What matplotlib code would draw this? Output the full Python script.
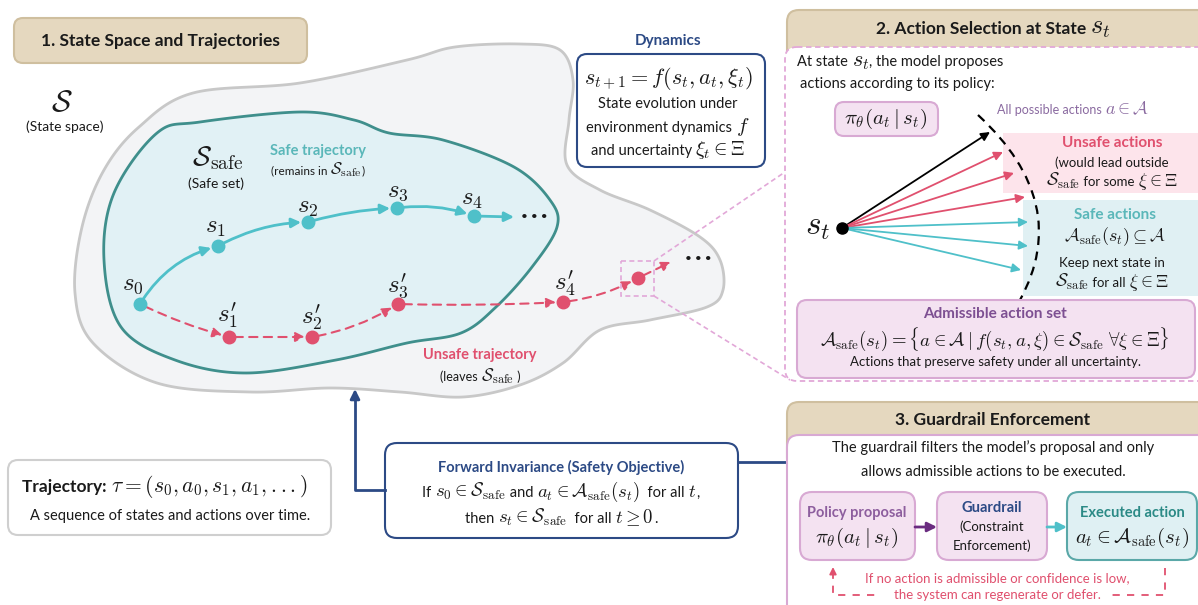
import numpy as np
import matplotlib
matplotlib.use('Agg')
import matplotlib.pyplot as plt
from matplotlib.patches import FancyBboxPatch, FancyArrowPatch, PathPatch
from matplotlib.path import Path

plt.rcParams['font.family'] = ['Lato', 'DejaVu Sans']
plt.rcParams['mathtext.fontset'] = 'cm'

# colours
TEAL = '#4fc0c9'
TEAL_TXT = '#5ab7b9'
RED = '#e0506e'
NAVY = '#2c4a85'
TAN = '#e5d8bf'
TAN_EDGE = '#cfbf9f'
PINK_FC = '#f4e2f1'
PINK_EC = '#d8a9d3'
PINK_DASH = '#e2a8d8'
DARK_TEAL = '#3f8f8c'
INK = '#1a1a1a'

# shapes of the two sets (outline points, pixel coords)
outer_x = [139, 193, 300, 407, 455, 520, 560, 573, 569, 567, 600, 650, 700, 720, 723, 707, 650,
           600, 563, 520, 463, 400, 330, 250, 157, 93, 75, 82, 104]
outer_y = [127, 93, 83, 60, 47, 44, 50, 80, 120, 165, 190, 210, 237, 260, 290, 307, 320,
           330, 363, 385, 397, 392, 388, 392, 383, 343, 293, 227, 170]
inner_x = [157, 200, 300, 354, 389, 443, 514, 550, 557, 532, 496, 461, 407, 336, 246, 175, 121, 104, 114]
inner_y = [133, 122, 112, 120, 133, 140, 167, 200, 227, 267, 307, 333, 343, 360, 373, 360, 327, 260, 193]

# trajectories
safe_x = [140, 218, 308, 397, 474]
safe_y = [304, 246, 222, 208, 216]
safe_rad = [-0.2, -0.12, -0.06, -0.12]
safe_lab = ['$s_0$', '$s_1$', '$s_2$', '$s_3$', '$s_4$']
safe_lab_xy = [(133, 285), (216, 227), (308, 207), (398, 191), (472, 199)]

unsafe_x = [140, 229, 312, 398, 563, 638]
unsafe_y = [304, 337, 337, 304, 302, 278]
unsafe_rad = [0.05, 0.0, 0.1, 0.02, 0.1]
unsafe_lab = ["$s_1'$", "$s_2'$", "$s_3'$", "$s_4'$"]
unsafe_lab_xy = [(228, 316), (312, 318), (398, 286), (565, 284)]

# action fan in panel 2
st_xy = (842, 228)
act_end_x = [990, 1003, 1014, 1025, 1028, 1028, 1021]
act_end_y = [132, 152, 173, 197, 222, 246, 270]
act_kind = ['all', 'unsafe', 'unsafe', 'unsafe', 'safe', 'safe', 'safe']

fig = plt.figure(figsize=(11.98, 6.05), dpi=100)
ax = fig.add_axes([0, 0, 1, 1])
ax.set_xlim(0, 1198)
ax.set_ylim(605, 0)
ax.axis('off')
renderer = fig.canvas.get_renderer()


def smooth_closed(xs, ys, n=24):
    P = np.column_stack([xs, ys]).astype(float)
    N = len(P)
    t = np.linspace(0, 1, n, endpoint=False)[:, None]
    out = []
    for i in range(N):
        p0, p1, p2, p3 = P[i - 1], P[i], P[(i + 1) % N], P[(i + 2) % N]
        out.append(0.5 * (2 * p1 + (-p0 + p2) * t + (2 * p0 - 5 * p1 + 4 * p2 - p3) * t ** 2
                          + (-p0 + 3 * p1 - 3 * p2 + p3) * t ** 3))
    out = np.vstack(out)
    return np.vstack([out, out[:1]])


def rbox(x0, y0, x1, y1, fc, ec, lw=1.4, r=10, ls='-', z=2):
    p = FancyBboxPatch((x0, y0), x1 - x0, y1 - y0, boxstyle='round,pad=0,rounding_size=%g' % r,
                       fc=fc, ec=ec, lw=lw, ls=ls, zorder=z)
    ax.add_patch(p)
    return p


def txt(x, y, s, size=10, color=INK, weight='normal', ha='center', z=10, **kw):
    ax.text(x, y, s, fontsize=size, color=color, fontweight=weight, ha=ha, va='center', zorder=z, **kw)


def mixed(x, y, parts, ha='center', color=INK, z=10):
    # parts: (string, size[, weight]) pieces laid side by side on one baseline
    base = y + 5
    objs = []
    for p in parts:
        s, size = p[0], p[1]
        w = p[2] if len(p) > 2 else 'normal'
        c = p[3] if len(p) > 3 else color
        t = ax.text(0, base, s, fontsize=size, fontweight=w, color=c, ha='left', va='baseline', zorder=z)
        objs.append(t)
    widths = [t.get_window_extent(renderer).width for t in objs]
    total = sum(widths)
    x0 = x - total / 2 if ha == 'center' else x
    for t, wd in zip(objs, widths):
        t.set_x(x0)
        x0 += wd


# ---------------- panel 1 : state space ----------------
o = smooth_closed(outer_x, outer_y)
ax.fill(o[:, 0], o[:, 1], fc='#f3f4f6', ec='#c8c8c8', lw=2, zorder=1)
i_ = smooth_closed(inner_x, inner_y)
ax.fill(i_[:, 0], i_[:, 1], fc='#e1f1f5', ec=DARK_TEAL, lw=2, zorder=2)

rbox(14, 18, 307, 63, TAN, TAN_EDGE, lw=1.5, r=9, z=3)
txt(160, 41, '1. State Space and Trajectories', size=12.5, weight='bold')

txt(62, 102, r'$\mathcal{S}$', size=22)
txt(65, 127, '(State space)', size=10)
txt(218, 158, r'$\mathcal{S}_{\mathrm{safe}}$', size=20)
txt(216, 184, '(Safe set)', size=10)
txt(318, 151, 'Safe trajectory', size=10.5, color=TEAL_TXT, weight='bold')
mixed(318, 169, [('(remains in ', 8.5), (r'$\mathcal{S}_{\mathrm{safe}}$', 12), (')', 8.5)])
txt(480, 355, 'Unsafe trajectory', size=10.5, color=RED, weight='bold')
mixed(480, 376, [('(leaves ', 9), (r'$\mathcal{S}_{\mathrm{safe}}$', 12.5), (' )', 9)])

# safe trajectory
for k in range(len(safe_x) - 1):
    a = FancyArrowPatch((safe_x[k], safe_y[k]), (safe_x[k + 1], safe_y[k + 1]),
                        connectionstyle='arc3,rad=%g' % safe_rad[k], arrowstyle='-|>',
                        mutation_scale=14, color=TEAL, lw=2, shrinkA=4, shrinkB=5, zorder=4)
    ax.add_patch(a)
ax.add_patch(FancyArrowPatch((safe_x[-1], safe_y[-1]), (safe_x[-1] + 40, safe_y[-1] + 1),
                             arrowstyle='-|>', mutation_scale=14, color=TEAL, lw=2,
                             shrinkA=4, shrinkB=0, zorder=4))
ax.plot(safe_x, safe_y, 'o', ms=9, color=TEAL, zorder=5)
txt(534, 217, '\u2022 \u2022 \u2022', size=8.5)
for s, (lx, ly) in zip(safe_lab, safe_lab_xy):
    txt(lx, ly, s, size=18)

# unsafe trajectory
for k in range(len(unsafe_x) - 1):
    a = FancyArrowPatch((unsafe_x[k], unsafe_y[k]), (unsafe_x[k + 1], unsafe_y[k + 1]),
                        connectionstyle='arc3,rad=%g' % unsafe_rad[k], arrowstyle='-|>',
                        mutation_scale=14, color=RED, lw=1.5, ls=(0, (4, 3)),
                        shrinkA=4, shrinkB=5, zorder=4)
    ax.add_patch(a)
ax.add_patch(FancyArrowPatch((unsafe_x[-1], unsafe_y[-1]), (unsafe_x[-1] + 33, unsafe_y[-1] - 16),
                             arrowstyle='-|>', mutation_scale=14, color=RED, lw=1.5,
                             ls=(0, (4, 3)), shrinkA=4, shrinkB=0, zorder=4))
ax.plot(unsafe_x[1:], unsafe_y[1:], 'o', ms=9, color=RED, zorder=5)
txt(698, 259, '\u2022 \u2022 \u2022', size=8.5)
for s, (lx, ly) in zip(unsafe_lab, unsafe_lab_xy):
    txt(lx, ly, s, size=18)

# zoom square + lines
ax.add_patch(plt.Rectangle((621, 261), 33, 35, fill=False, ec=PINK_DASH, lw=1.2, ls=(0, (3, 2)), zorder=6))
ax.plot([654, 785], [261, 172], color=PINK_DASH, lw=1.2, ls=(0, (3, 2)), zorder=6)
ax.plot([654, 790], [296, 380], color=PINK_DASH, lw=1.2, ls=(0, (3, 2)), zorder=6)

# dynamics
txt(668, 41, 'Dynamics', size=11, color=NAVY, weight='bold')
rbox(577, 54, 765, 167, 'white', NAVY, lw=1.5, r=10, z=7)
txt(668, 78, r'$s_{t+1} = f(s_t, a_t, \xi_t)$', size=16)
txt(668, 104, 'State evolution under', size=10.5)
mixed(668, 127, [('environment dynamics ', 10.5), (r'$f$', 15)])
mixed(668, 150, [('and uncertainty ', 10.5), (r'$\xi_t \in \Xi$', 14.5)])

# trajectory box
rbox(8, 460, 331, 535, 'white', '#cfcfcf', lw=1.5, r=10, z=3)
mixed(22, 487, [('Trajectory: ', 12.5, 'bold'), (r'$\tau = (s_0, a_0, s_1, a_1, ...)$', 15.5)], ha='left')
txt(170, 516, 'A sequence of states and actions over time.', size=10.5)

# forward invariance
rbox(385, 443, 738, 538, 'white', NAVY, lw=1.5, r=12, z=3)
txt(561, 467, 'Forward Invariance (Safety Objective)', size=10.5, color=NAVY, weight='bold')
mixed(561, 492, [('If ', 10.5), (r'$s_0 \in \mathcal{S}_{\mathrm{safe}}$', 13.5), (' and ', 10.5),
                 (r'$a_t \in \mathcal{A}_{\mathrm{safe}}(s_t)$', 13.5), ('  for all ', 10.5),
                 (r'$t$', 13.5), (',', 10.5)])
mixed(561, 518, [('then ', 10.5), (r'$s_t \in \mathcal{S}_{\mathrm{safe}}$', 13.5), ('  for all ', 10.5),
                 (r'$t \geq 0$', 13.5), ('.', 10.5)])
ax.plot([385, 355, 355], [490, 490, 400], color=NAVY, lw=2, zorder=3)
ax.add_patch(FancyArrowPatch((355, 400), (355, 389), arrowstyle='-|>', mutation_scale=14,
                             color=NAVY, lw=2, shrinkA=0, shrinkB=0, zorder=3))
ax.plot([738, 787], [462, 462], color=NAVY, lw=2, zorder=3)

# ---------------- panel 2 : action selection ----------------
rbox(787, 10, 1230, 70, TAN, TAN_EDGE, lw=1.5, r=12, z=2)
mixed(993, 29, [('2. Action Selection at State ', 12.5, 'bold'), (r'$s_t$', 19)])
rbox(785, 47, 1230, 381, 'white', PINK_DASH, lw=1.3, r=12, ls=(0, (3, 2)), z=3)

mixed(797, 61, [('At state ', 10.5), (r'$s_t$', 16), (', the model proposes', 10.5)], ha='left')
txt(800, 84, 'actions according to its policy:', size=10.5, ha='left')
rbox(835, 102, 938, 136, PINK_FC, PINK_EC, lw=1.5, r=9, z=4)
txt(886, 119, r'$\pi_\theta(a_t \mid s_t)$', size=15)
mixed(997, 109, [('All possible actions ', 9), (r'$a \in \mathcal{A}$', 13)], ha='left', color='#8a6aa0')

ax.add_patch(plt.Rectangle((1003, 133), 220, 60, fc='#fde4eb', ec='none', zorder=4))
ax.add_patch(plt.Rectangle((1023, 200), 200, 96, fc='#e0f0f3', ec='none', zorder=4))
txt(1112, 143, 'Unsafe actions', size=11, color=RED, weight='bold')
txt(1112, 163, '(would lead outside', size=9.5)
mixed(1112, 181, [(r'$\mathcal{S}_{\mathrm{safe}}$', 13), (' for some ', 9.5), (r'$\xi \in \Xi$', 13)])
txt(1115, 215, 'Safe actions', size=11, color=TEAL_TXT, weight='bold')
txt(1115, 237, r'$\mathcal{A}_{\mathrm{safe}}(s_t) \subseteq \mathcal{A}$', size=13)
txt(1112, 263, 'Keep next state in', size=9.5)
mixed(1112, 282, [(r'$\mathcal{S}_{\mathrm{safe}}$', 13), (' for all ', 9.5), (r'$\xi \in \Xi$', 13)])

arc = Path([(978, 115), (1073, 203), (1020, 300)], [Path.MOVETO, Path.CURVE3, Path.CURVE3])
ax.add_patch(PathPatch(arc, fill=False, ec='black', lw=1.6, ls=(0, (4, 3)), zorder=5))

kind_col = {'all': 'black', 'unsafe': RED, 'safe': TEAL}
for ex, ey, kd in zip(act_end_x, act_end_y, act_kind):
    ax.add_patch(FancyArrowPatch(st_xy, (ex, ey), arrowstyle='-|>', mutation_scale=13,
                                 color=kind_col[kd], lw=1.3, shrinkA=0, shrinkB=0, zorder=6))
ax.plot([st_xy[0]], [st_xy[1]], 'o', ms=8, color='black', zorder=7)
txt(818, 227, r'$s_t$', size=24)

rbox(797, 300, 1195, 378, PINK_FC, PINK_EC, lw=1.5, r=10, z=5)
txt(995, 314, 'Admissible action set', size=11, color='#7d4f92', weight='bold')
txt(995, 339, r'$\mathcal{A}_{\mathrm{safe}}(s_t) = \{a \in \mathcal{A} \mid f(s_t, a, \xi) \in \mathcal{S}_{\mathrm{safe}}\ \forall \xi \in \Xi\}$',
    size=13.5)
txt(995, 362, 'Actions that preserve safety under all uncertainty.', size=9.5)

# ---------------- panel 3 : guardrail ----------------
rbox(787, 402, 1230, 470, TAN, TAN_EDGE, lw=1.5, r=12, z=2)
txt(993, 420, '3. Guardrail Enforcement', size=12.5, weight='bold')
rbox(787, 435, 1230, 640, 'white', PINK_EC, lw=1.5, r=12, z=3)
txt(993, 448, 'The guardrail filters the model\u2019s proposal and only', size=10.5)
txt(993, 472, 'allows admissible actions to be executed.', size=10.5)

rbox(800, 492, 915, 560, PINK_FC, PINK_EC, lw=1.5, r=12, z=4)
txt(857, 513, 'Policy proposal', size=10.5, color='#8d5e9e', weight='bold')
txt(857, 538, r'$\pi_\theta(a_t \mid s_t)$', size=15)
rbox(937, 492, 1047, 560, PINK_FC, PINK_EC, lw=1.5, r=12, z=4)
txt(992, 508, 'Guardrail', size=10.5, color=NAVY, weight='bold')
txt(992, 527, '(Constraint', size=9.5)
txt(992, 546, 'Enforcement)', size=9.5)
rbox(1067, 492, 1197, 560, '#dff0f3', '#5aa8a8', lw=1.5, r=12, z=4)
txt(1132, 513, 'Executed action', size=10.5, color='#2b8a86', weight='bold')
txt(1132, 538, r'$a_t \in \mathcal{A}_{\mathrm{safe}}(s_t)$', size=15)

ax.add_patch(FancyArrowPatch((915, 527), (937, 527), arrowstyle='-|>', mutation_scale=14,
                             color='#6a2c80', lw=2, shrinkA=0, shrinkB=0, zorder=5))
ax.add_patch(FancyArrowPatch((1047, 527), (1067, 527), arrowstyle='-|>', mutation_scale=14,
                             color=TEAL, lw=2, shrinkA=0, shrinkB=0, zorder=5))

ax.plot([1165, 1165, 833, 833], [568, 595, 595, 578], color=RED, lw=1.3, ls=(0, (4, 4)), zorder=5)
ax.add_patch(FancyArrowPatch((833, 578), (833, 567), arrowstyle='-|>', mutation_scale=10,
                             color=RED, lw=1.3, shrinkA=0, shrinkB=0, zorder=5))
ax.add_patch(plt.Rectangle((878, 585), 230, 18, fc='white', ec='none', zorder=5))
txt(997, 578, 'If no action is admissible or confidence is low,', size=9.5, color=RED)
txt(997, 595, 'the system can regenerate or defer.', size=9.5, color=RED)

fig.savefig('out.png', dpi=100)
